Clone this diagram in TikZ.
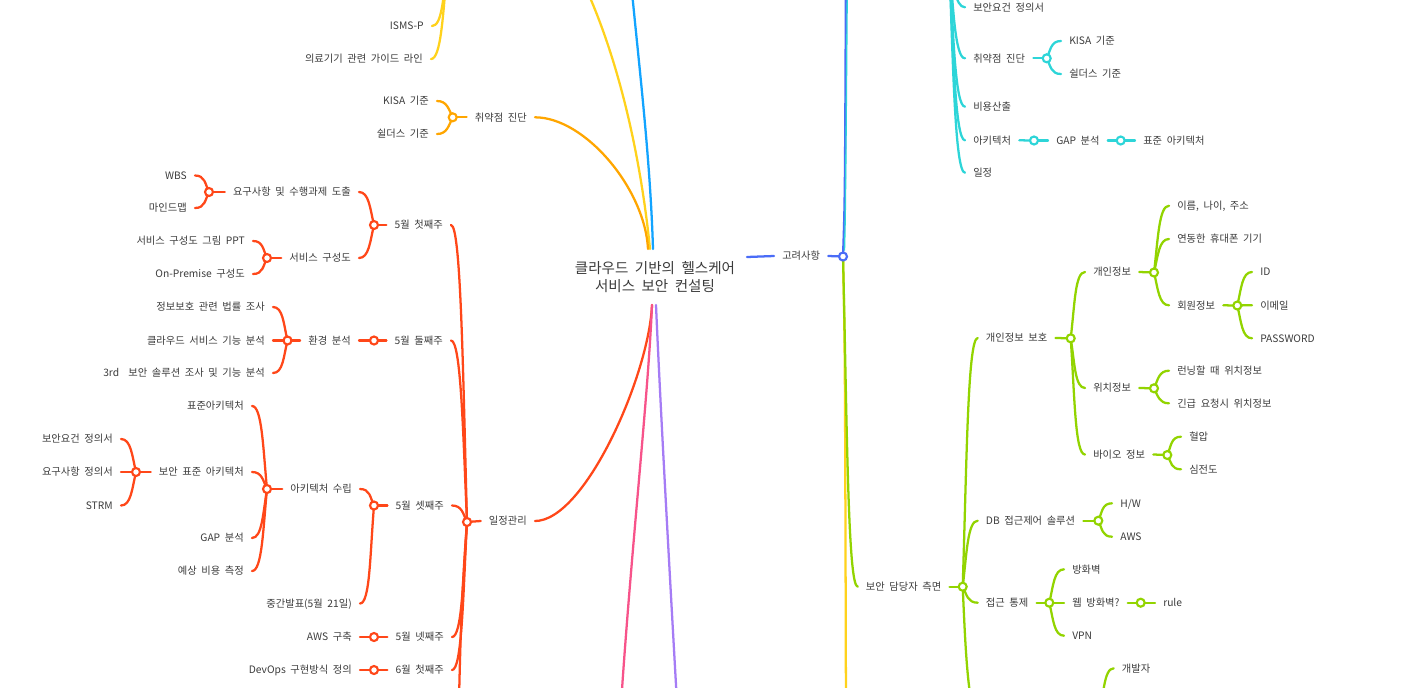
\documentclass[tikz,border=0pt]{standalone}
\usepackage{fontspec}
\setmainfont[WordSpace=2.0]{Noto Sans CJK KR}
\usetikzlibrary{calc,backgrounds}
\definecolor{txt}{HTML}{3C3C3C}
\definecolor{cRed}{HTML}{FF4719}
\definecolor{cOrange}{HTML}{FFA600}
\definecolor{cGold}{HTML}{FFD21C}
\definecolor{cBlue}{HTML}{12A4FF}
\definecolor{cRoyal}{HTML}{4A6CF7}
\definecolor{cCyan}{HTML}{2DD5D8}
\definecolor{cGreen}{HTML}{92D400}
\definecolor{cPink}{HTML}{F7538A}
\definecolor{cPurple}{HTML}{A57CF5}
\newcommand\LeftCon[3]{\draw[con=#1] (#2.east) .. controls +(10,0) and ($(#3.center)!0.5!(#3.center |- #2.east)+(-4,0)$) .. (#3.center);}
\newcommand\RightCon[3]{\draw[con=#1] (#2.west) .. controls +(-10,0) and ($(#3.center)!0.5!(#3.center |- #2.west)+(4,0)$) .. (#3.center);}
\newcommand\StubL[3]{\draw[con=#1] (#2.center) -- (#3.west);}
\newcommand\StubR[3]{\draw[con=#1] (#2.east) -- (#3.center);}
\begin{document}
\begin{tikzpicture}[x=0.75pt,y=-0.75pt,
 lab/.style={font=\fontsize{7.7}{9}\selectfont, text=txt, inner xsep=6pt, inner ysep=1pt, text height=6.5pt, text depth=0.8pt},
 L/.style={lab, anchor=east}, R/.style={lab, anchor=west},
 title/.style={font=\fontsize{10.9}{13.5}\selectfont, text=txt, align=center, inner sep=0pt},
 circ/.style={circle, draw=#1, fill=white, line width=1.6pt, minimum size=6pt, inner sep=0pt},
 con/.style={draw=#1, line width=1.7pt, line cap=round},
 main/.style={draw=#1, line width=1.7pt, line cap=round}]
\useasboundingbox (0,0) rectangle (1403,687);

% ---------- root ----------
\node[title] (root) at (655,277) {클라우드 기반의 헬스케어\\서비스 보안 컨설팅};
\coordinate (rtopA) at (650,249);
\coordinate (rtopB) at (653,249);
\coordinate (rtopC) at (648,249);
\coordinate (rbotA) at (652,305);
\coordinate (rbotB) at (656,305);
\coordinate (rright) at (747,257);
% off-canvas ends
\coordinate (gmain) at (572,-40);
\coordinate (bmain) at (629,-40);
\coordinate (gsub) at (447,-30);
\coordinate (pinkend) at (620,720);
\coordinate (purpend) at (678,720);
\coordinate (cyup) at (846,-40);
\coordinate (ydown) at (846,720);
\coordinate (cpar) at (949,-45);
\coordinate (gdown) at (985,740);
\coordinate (gdev) at (1099,725);

% ---------- red : 일정관리 ----------
\node[L] (yj) at (535,521) {일정관리};
\node[circ=cRed] (cyj) at (467,522) {};
\node[L] (w1) at (451,225) {5월 첫째주};
\node[circ=cRed] (cw1) at (374,225) {};
\node[L] (a1) at (359,192) {요구사항 및 수행과제 도출};
\node[circ=cRed] (ca1) at (209,192) {};
\node[L] (a11) at (195,175.5) {WBS};
\node[L] (a12) at (195,208) {마인드맵};
\node[L] (a2) at (359,258) {서비스 구성도};
\node[circ=cRed] (ca2) at (267,258) {};
\node[L] (a21) at (253,241) {서비스 구성도 그림 PPT};
\node[L] (a22) at (253,274) {On-Premise 구성도};
\node[L] (w2) at (451,340.5) {5월 둘째주};
\node[circ=cRed] (cw2) at (374,340.5) {};
\node[L] (b1) at (359,340.5) {환경 분석};
\node[circ=cRed] (cb1) at (287.5,340.5) {};
\node[L] (b11) at (273,307) {정보보호 관련 법률 조사};
\node[L] (b12) at (273,340.5) {클라우드 서비스 기능 분석};
\node[L] (b13) at (273,373) {3rd\ \ 보안 솔루션 조사 및 기능 분석};
\node[L] (w3) at (452,505.5) {5월 셋째주};
\node[circ=cRed] (cw3) at (374,505.5) {};
\node[L] (c1) at (360,489) {아키텍처 수립};
\node[circ=cRed] (cc1) at (267,489) {};
\node[L] (c11) at (252,406) {표준아키텍처};
\node[L] (c12) at (252,472) {보안 표준 아키텍처};
\node[circ=cRed] (cc12) at (136,472) {};
\node[L] (c121) at (121,439) {보안요건 정의서};
\node[L] (c122) at (121,472) {요구사항 정의서};
\node[L] (c123) at (121,505.5) {STRM};
\node[L] (c13) at (252,538) {GAP 분석};
\node[L] (c14) at (252,571) {예상 비용 측정};
\node[L] (c2) at (360,603.5) {중간발표(5월 21일)};
\node[L] (w4) at (452,637) {5월 넷째주};
\node[circ=cRed] (cw4) at (374,637) {};
\node[L] (d1) at (360,637) {AWS 구축};
\node[L] (w5) at (452,670) {6월 첫째주};
\node[circ=cRed] (cw5) at (374,670) {};
\node[L] (e1) at (360,670) {DevOps 구현방식 정의};

% ---------- orange / gold ----------
\node[L] (vj) at (535,117.3) {취약점 진단};
\node[circ=cOrange] (cvj) at (452.7,117.3) {};
\node[L] (v1) at (437,101) {KISA 기준};
\node[L] (v2) at (437,134) {쉴더스 기준};
\node[L] (i1) at (432,26) {ISMS-P};
\node[L] (i2) at (431,59) {의료기기 관련 가이드 라인};

% ---------- right : 고려사항 ----------
\node[R] (gr) at (774,256) {고려사항};
\node[circ=cRoyal] (cgr) at (843,256.5) {};
\node[R] (k1) at (965,7.3) {보안요건 정의서};
\node[R] (k2) at (965,58.3) {취약점 진단};
\node[circ=cCyan] (ck2) at (1046.7,58.3) {};
\node[R] (k21) at (1061,41) {KISA 기준};
\node[R] (k22) at (1061,74) {쉴더스 기준};
\node[R] (k3) at (965,106.7) {비용산출};
\node[R] (k4) at (965,140.3) {아키텍처};
\node[circ=cCyan] (ck4) at (1034,140.5) {};
\node[R] (k41) at (1048,140.5) {GAP 분석};
\node[circ=cCyan] (ck41) at (1120.7,140.5) {};
\node[R] (k42) at (1135,140.5) {표준 아키텍처};
\node[R] (k5) at (965,172.7) {일정};

\node[R] (bd) at (857.7,586.7) {보안 담당자 측면};
\node[circ=cGreen] (cbd) at (962.7,586.7) {};
\node[R] (g1) at (977.7,338) {개인정보 보호};
\node[circ=cGreen] (cg1) at (1070.7,338.3) {};
\node[R] (g11) at (1085,272) {개인정보};
\node[circ=cGreen] (cg11) at (1154,272.5) {};
\node[R] (g111) at (1169,205.7) {이름, 나이, 주소};
\node[R] (g112) at (1169,239) {연동한 휴대폰 기기};
\node[R] (g113) at (1169,305.3) {회원정보};
\node[circ=cGreen] (cg113) at (1237.3,305.5) {};
\node[R] (h1) at (1252,272) {ID};
\node[R] (h2) at (1252,305.3) {이메일};
\node[R] (h3) at (1252,338.3) {PASSWORD};
\node[R] (g12) at (1085,388) {위치정보};
\node[circ=cGreen] (cg12) at (1154,388.3) {};
\node[R] (g121) at (1169,370.7) {런닝할 때 위치정보};
\node[R] (g122) at (1169,403.3) {긴급 요청시 위치정보};
\node[R] (g13) at (1085,454.5) {바이오 정보};
\node[circ=cGreen] (cg13) at (1167.3,455) {};
\node[R] (g131) at (1181,436.7) {혈압};
\node[R] (g132) at (1181,469.3) {심전도};
\node[R] (g2) at (977.7,520.7) {DB 접근제어 솔루션};
\node[circ=cGreen] (cg2) at (1098.3,520.7) {};
\node[R] (g21) at (1112,503.3) {H/W};
\node[R] (g22) at (1112,536.7) {AWS};
\node[R] (g3) at (977.7,602.7) {접근 통제};
\node[circ=cGreen] (cg3) at (1049.3,602.7) {};
\node[R] (g31) at (1064,569.3) {방화벽};
\node[R] (g32) at (1064,602.7) {웹 방화벽?};
\node[circ=cGreen] (cg32) at (1140.7,602.7) {};
\node[R] (g321) at (1155,602.7) {rule};
\node[R] (g33) at (1064,635.7) {VPN};
\node[R] (dev) at (1113.7,668.3) {개발자};

\begin{scope}[on background layer]
\fill[white] (0,0) rectangle (1403,687);
% main branches
\draw[main=cGold] (rtopA) .. controls (640,150) and (615,40) .. (gmain);
\draw[main=cBlue] (rtopB) .. controls (650,150) and (637,50) .. (bmain);
\draw[main=cOrange] (vj.east) .. controls +(50,0) and +(-3,-60) .. (rtopC);
\draw[main=cRed] (yj.east) .. controls +(50,0) and +(-3,70) .. (rbotA);
\draw[main=cPink] (rbotA) .. controls (648,400) and (630,560) .. (pinkend);
\draw[main=cPurple] (rbotB) .. controls (660,400) and (670,580) .. (purpend);
\draw[main=cRoyal] (rright) -- (gr.west);

% red subtree
\StubL{cRed}{cyj}{yj}
\LeftCon{cRed}{w1}{cyj}
\LeftCon{cRed}{w2}{cyj}
\LeftCon{cRed}{w3}{cyj}
\LeftCon{cRed}{w4}{cyj}
\LeftCon{cRed}{w5}{cyj}
\draw[con=cRed] (cyj.center) .. controls (461,600) and (460,660) .. (459,700);
\StubL{cRed}{cw1}{w1}
\LeftCon{cRed}{a1}{cw1}
\LeftCon{cRed}{a2}{cw1}
\StubL{cRed}{ca1}{a1}
\LeftCon{cRed}{a11}{ca1}
\LeftCon{cRed}{a12}{ca1}
\StubL{cRed}{ca2}{a2}
\LeftCon{cRed}{a21}{ca2}
\LeftCon{cRed}{a22}{ca2}
\StubL{cRed}{cw2}{w2}
\LeftCon{cRed}{b1}{cw2}
\StubL{cRed}{cb1}{b1}
\LeftCon{cRed}{b11}{cb1}
\LeftCon{cRed}{b12}{cb1}
\LeftCon{cRed}{b13}{cb1}
\StubL{cRed}{cw3}{w3}
\LeftCon{cRed}{c1}{cw3}
\LeftCon{cRed}{c2}{cw3}
\StubL{cRed}{cc1}{c1}
\LeftCon{cRed}{c11}{cc1}
\LeftCon{cRed}{c12}{cc1}
\LeftCon{cRed}{c13}{cc1}
\LeftCon{cRed}{c14}{cc1}
\StubL{cRed}{cc12}{c12}
\LeftCon{cRed}{c121}{cc12}
\LeftCon{cRed}{c122}{cc12}
\LeftCon{cRed}{c123}{cc12}
\StubL{cRed}{cw4}{w4}
\LeftCon{cRed}{d1}{cw4}
\StubL{cRed}{cw5}{w5}
\LeftCon{cRed}{e1}{cw5}

% orange / gold subtrees
\StubL{cOrange}{cvj}{vj}
\LeftCon{cOrange}{v1}{cvj}
\LeftCon{cOrange}{v2}{cvj}
\LeftCon{cGold}{i1}{gsub}
\LeftCon{cGold}{i2}{gsub}

% right side
\StubR{cRoyal}{gr}{cgr}
\draw[con=cGold] (cgr.center) .. controls (845,350) .. (ydown);
\draw[con=cRoyal] (cgr.center) .. controls (845,200) .. (cyup);
\draw[draw=cCyan, line width=1pt] ($(cgr.center)+(1.5,-6)$) .. controls +(1,-40) .. ($(cyup)+(1.5,0)$);
\RightCon{cGreen}{bd}{cgr}

% cyan subtree
\RightCon{cCyan}{k1}{cpar}
\RightCon{cCyan}{k2}{cpar}
\RightCon{cCyan}{k3}{cpar}
\RightCon{cCyan}{k4}{cpar}
\RightCon{cCyan}{k5}{cpar}
\StubR{cCyan}{k2}{ck2}
\RightCon{cCyan}{k21}{ck2}
\RightCon{cCyan}{k22}{ck2}
\StubR{cCyan}{k4}{ck4}
\RightCon{cCyan}{k41}{ck4}
\StubR{cCyan}{k41}{ck41}
\RightCon{cCyan}{k42}{ck41}

% green subtree
\StubR{cGreen}{bd}{cbd}
\RightCon{cGreen}{g1}{cbd}
\RightCon{cGreen}{g2}{cbd}
\RightCon{cGreen}{g3}{cbd}
\draw[con=cGreen] (cbd.center) .. controls (966,660) and (968,720) .. (gdown);
\StubR{cGreen}{g1}{cg1}
\RightCon{cGreen}{g11}{cg1}
\RightCon{cGreen}{g12}{cg1}
\RightCon{cGreen}{g13}{cg1}
\StubR{cGreen}{g11}{cg11}
\RightCon{cGreen}{g111}{cg11}
\RightCon{cGreen}{g112}{cg11}
\RightCon{cGreen}{g113}{cg11}
\StubR{cGreen}{g113}{cg113}
\RightCon{cGreen}{h1}{cg113}
\RightCon{cGreen}{h2}{cg113}
\RightCon{cGreen}{h3}{cg113}
\StubR{cGreen}{g12}{cg12}
\RightCon{cGreen}{g121}{cg12}
\RightCon{cGreen}{g122}{cg12}
\StubR{cGreen}{g13}{cg13}
\RightCon{cGreen}{g131}{cg13}
\RightCon{cGreen}{g132}{cg13}
\StubR{cGreen}{g2}{cg2}
\RightCon{cGreen}{g21}{cg2}
\RightCon{cGreen}{g22}{cg2}
\StubR{cGreen}{g3}{cg3}
\RightCon{cGreen}{g31}{cg3}
\RightCon{cGreen}{g32}{cg3}
\RightCon{cGreen}{g33}{cg3}
\StubR{cGreen}{g32}{cg32}
\RightCon{cGreen}{g321}{cg32}
\RightCon{cGreen}{dev}{gdev}
\end{scope}
\end{tikzpicture}
\end{document}
